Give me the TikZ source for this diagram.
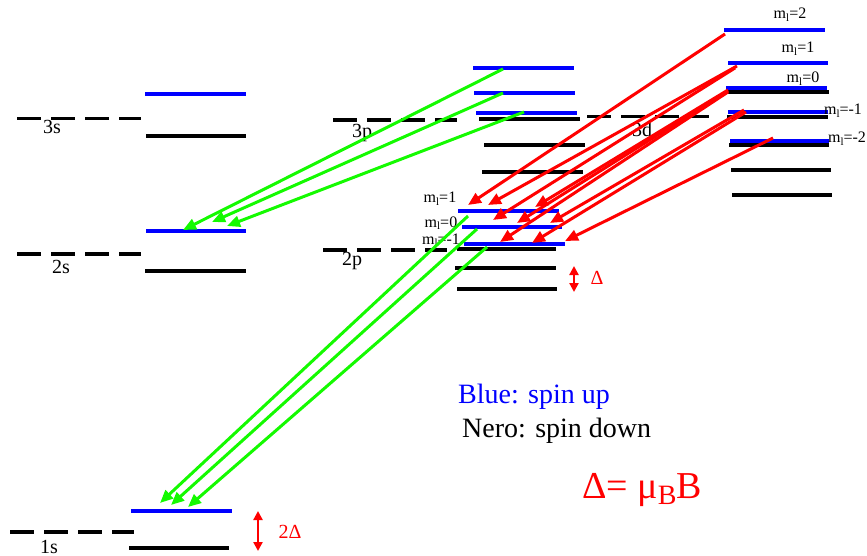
\documentclass[tikz,border=0pt]{standalone}
\usepackage{fontspec}
\setmainfont{Liberation Serif}
\usetikzlibrary{arrows.meta}
\definecolor{lvblue}{RGB}{0,0,255}
\definecolor{lvred}{RGB}{255,0,0}
\definecolor{lvgreen}{RGB}{20,250,0}
\newcommand{\mlab}[1]{m\raisebox{-0.4ex}{\fontsize{11}{11}\selectfont l}=#1}
\tikzset{
  uplev/.style={draw=lvblue,line width=3.2pt},
  dnlev/.style={draw=black,line width=3.2pt},
  reflev/.style={draw=black,line width=3.2pt,dash pattern=on 24pt off 10pt},
  gtrans/.style={draw=lvgreen,line width=3pt,-{Triangle[length=13pt,width=11pt]}},
  rtrans/.style={draw=lvred,line width=3pt,-{Triangle[length=13pt,width=11pt]}},
  splitarr/.style={draw=lvred,line width=2.5pt,{Triangle[length=9pt,width=9pt]}-{Triangle[length=9pt,width=9pt]}},
  shelltxt/.style={inner sep=0pt,anchor=base,font=\fontsize{20}{22}\selectfont},
  mtxt/.style={inner sep=0pt,anchor=base,font=\fontsize{16}{18}\selectfont},
  legtxt/.style={inner sep=0pt,anchor=base west,font=\fontsize{28}{30}\selectfont}
}
\begin{document}
\begin{tikzpicture}[x=1pt,y=-1pt]
\useasboundingbox (0,0) rectangle (867,556);
% reference (dashed) levels
\draw[reflev] (17,118.5) -- (141,118.5);
\draw[reflev] (17,254) -- (141,254);
\draw[reflev] (10,532) -- (134,532);
\draw[reflev] (333,120) -- (457,120);
\draw[reflev] (323,250) -- (447,250);
\draw[reflev] (587,116.5) -- (709,116.5);
% s levels
\draw[uplev] (145,94) -- (246,94);
\draw[dnlev] (146,136) -- (246,136);
\draw[uplev] (146,231) -- (246,231);
\draw[dnlev] (145,271) -- (246,271);
\draw[uplev] (131,511) -- (232,511);
\draw[dnlev] (129,548) -- (229,548);
% 3p levels
\draw[uplev] (473,68) -- (574,68);
\draw[uplev] (474,93) -- (575,93);
\draw[uplev] (476,113) -- (577,113);
\draw[dnlev] (479,119) -- (580,119);
\draw[dnlev] (484,145) -- (585,145);
\draw[dnlev] (482,172) -- (583,172);
% 2p levels
\draw[uplev] (458,211) -- (559,211);
\draw[uplev] (462,227) -- (562,227);
\draw[uplev] (464,244) -- (565,244);
\draw[dnlev] (457,249) -- (556,249);
\draw[dnlev] (455,268) -- (556,268);
\draw[dnlev] (457,289) -- (557,289);
% 3d levels
\draw[dnlev] (728,92) -- (829,92);
\draw[dnlev] (727,117) -- (828,117);
\draw[dnlev] (729,145) -- (829,145);
\draw[dnlev] (731,170) -- (831,170);
\draw[dnlev] (732,195) -- (832,195);
\draw[uplev] (724,30) -- (825,30);
\draw[uplev] (728,63) -- (828,63);
\draw[uplev] (726,88) -- (827,88);
\draw[uplev] (728,112) -- (828,112);
\draw[uplev] (730,141) -- (829,141);
% shell labels
\node[shelltxt] (l3s) at (52,134) {3s};
\node[shelltxt] (l2s) at (61,273) {2s};
\node[shelltxt] (l1s) at (49,553) {1s};
\node[shelltxt] (l3p) at (362,138) {3p};
\node[shelltxt] (l2p) at (352,265) {2p};
\node[shelltxt] (l3d) at (642,137) {3d};
% m_l labels
\node[mtxt] (d2) at (790,19) {\mlab{2}};
\node[mtxt] (d1) at (798,53) {\mlab{1}};
\node[mtxt] (d0) at (803,83) {\mlab{0}};
\node[mtxt] (dm1) at (843,115) {\mlab{-1}};
\node[mtxt] (dm2) at (847,143) {\mlab{-2}};
\node[mtxt] (p1) at (440,203) {\mlab{1}};
\node[mtxt] (p0) at (441,227) {\mlab{0}};
\node[mtxt] (pm1) at (441,244) {\mlab{-1}};
% coordinates of transitions
\coordinate (ga1) at (503,69);  \coordinate (gb1) at (183,230);
\coordinate (ga2) at (503,93);  \coordinate (gb2) at (212,222);
\coordinate (ga3) at (524,112); \coordinate (gb3) at (227,226);
\coordinate (ga4) at (468,216); \coordinate (gb4) at (160,503);
\coordinate (ga5) at (477,229); \coordinate (gb5) at (171,505);
\coordinate (ga6) at (487,247); \coordinate (gb6) at (188,507);
\coordinate (ra1) at (725,34);  \coordinate (rb1) at (468,205);
\coordinate (ra2) at (737,66);  \coordinate (rb2) at (488,205);
\coordinate (ra3) at (735,68);  \coordinate (rb3) at (493,220);
\coordinate (ra4) at (728,90);  \coordinate (rb4) at (535,207);
\coordinate (ra5) at (728,91);  \coordinate (rb5) at (517,223);
\coordinate (ra6) at (728,92);  \coordinate (rb6) at (500,242);
\coordinate (ra7) at (744,110); \coordinate (rb7) at (550,223);
\coordinate (ra8) at (746,112); \coordinate (rb8) at (532,243);
\coordinate (ra9) at (773,138); \coordinate (rb9) at (565,241);
\foreach \i in {1,...,6} { \draw[gtrans] (ga\i) -- (gb\i); }
\foreach \i in {1,...,9} { \draw[rtrans] (ra\i) -- (rb\i); }
% splitting arrows
\coordinate (sa1) at (574,266); \coordinate (sb1) at (574,292);
\coordinate (sa2) at (258,511); \coordinate (sb2) at (258,551);
\draw[splitarr] (sa1) -- (sb1);
\draw[splitarr] (sa2) -- (sb2);
\node[inner sep=0pt,anchor=base,text=lvred,font=\fontsize{20}{22}\selectfont] (dl) at (597,284) {Δ};
\node[inner sep=0pt,anchor=base,text=lvred,font=\fontsize{20}{22}\selectfont] (d2l) at (290,538) {2Δ};
% legend
\node[legtxt,text=lvblue] (leg1) at (458,403) {Blue: spin up};
\node[legtxt] (leg2) at (462,437) {Nero: spin down};
\node[inner sep=0pt,anchor=base west,text=lvred,font=\fontsize{38}{40}\selectfont] (form) at (582,498) {Δ= μ\raisebox{-0.4ex}{\fontsize{28}{28}\selectfont B}B};
\end{tikzpicture}
\end{document}
